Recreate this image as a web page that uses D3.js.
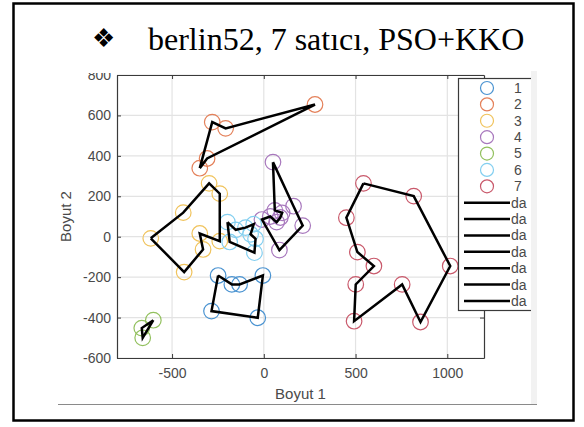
<!DOCTYPE html>
<html>
<head>
<meta charset="utf-8">
<script src="https://cdn.jsdelivr.net/npm/d3@7"></script>
<style>
  body { margin: 0; background: #fff; }
  svg { display: block; }
</style>
</head>
<body>
<div id="chart"></div>
<script>
// city coordinates per salesman, in tour order
var salesman1 = [[-249, -192], [-174, -236], [-132, -236], [-5, -192], [-33, -401], [-285, -368]];
var salesman2 = [[-349, 339], [-281, 567], [-208, 536], [279, 654], [-309, 387]];
var salesman3 = [[-616, -8], [-439, 119], [-298, 264], [-240, 213], [-240, -22], [-349, 16], [-331, -63], [-434, -175]];
var salesman4 = [[50, 369], [60, 130], [100, 118], [90, 95], [70, 72], [35, 100], [-10, 85], [85, -66], [212, 55], [162, 151]];
var salesman5 = [[-602, -413], [-665, -452], [-660, -500]];
var salesman6 = [[-198, 72], [-153, 34], [-100, 45], [-55, 62], [-72, 12], [-45, -10], [-51, -79], [-186, -26]];
var salesman7 = [[543, 264], [817, 201], [1016, -145], [854, -422], [754, -236], [492, -418], [501, -236], [600, -145], [510, -76], [450, 94]];

var tours = [salesman1, salesman2, salesman3, salesman4, salesman5, salesman6, salesman7];
var seriesNames = ["1", "2", "3", "4", "5", "6", "7"];
var lineNames = ["da", "da", "da", "da", "da", "da", "da"];
var colors = ["#4a93d1", "#e4815a", "#f0c35c", "#a878bd", "#92c05e", "#83cff0", "#c9596b"];

var xTicks = [-500, 0, 500, 1000];
var yTicks = [-600, -400, -200, 0, 200, 400, 600, 800];

var W = 584, H = 427;
var svg = d3.select("#chart").append("svg")
  .attr("width", W)
  .attr("height", H);

// slide frame
svg.append("rect")
  .attr("x", 13.5).attr("y", 3.5)
  .attr("width", 560).attr("height", 417)
  .attr("fill", "none")
  .attr("stroke", "#000")
  .attr("stroke-width", 2.5);

// title
var title = svg.append("text")
  .attr("y", 50)
  .style("font-family", "'Liberation Serif', 'Times New Roman', serif")
  .style("font-size", "32px")
  .attr("fill", "#000");
title.append("tspan")
  .attr("x", 92)
  .attr("dy", -3)
  .style("font-family", "'DejaVu Sans', sans-serif")
  .style("font-size", "26px")
  .text("\u2756");
title.append("tspan")
  .attr("x", 148)
  .attr("dy", 3)
  .text("berlin52, 7 satıcı, PSO+KKO");

// the pasted figure area
svg.append("clipPath").attr("id", "figclip")
  .append("rect").attr("x", 58).attr("y", 73).attr("width", 473).attr("height", 331);

svg.append("rect")
  .attr("x", 531).attr("y", 71).attr("width", 6).attr("height", 333)
  .attr("fill", "#f2f2f2");

svg.append("line")
  .attr("x1", 58).attr("x2", 537)
  .attr("y1", 404.5).attr("y2", 404.5)
  .attr("stroke", "#8a8a8a").attr("stroke-width", 1.2);

var fig = svg.append("g").attr("clip-path", "url(#figclip)");

var margin = {left: 117, right: 484, top: 75, bottom: 358};
var x = d3.scaleLinear().domain([-800, 1200]).range([margin.left, margin.right]);
var y = d3.scaleLinear().domain([-600, 800]).range([margin.bottom, margin.top]);

// grid
fig.append("g").selectAll("line")
  .data(xTicks).join("line")
  .attr("x1", d => x(d)).attr("x2", d => x(d))
  .attr("y1", margin.top).attr("y2", margin.bottom)
  .attr("stroke", "#e3e3e3").attr("stroke-width", 1.2);
fig.append("g").selectAll("line")
  .data(yTicks).join("line")
  .attr("x1", margin.left).attr("x2", margin.right)
  .attr("y1", d => y(d)).attr("y2", d => y(d))
  .attr("stroke", "#e3e3e3").attr("stroke-width", 1.2);

// axes
var axisColor = "#3a3a3a";
var xAxis = fig.append("g")
  .attr("transform", "translate(0," + margin.bottom + ")")
  .call(d3.axisBottom(x).tickValues(xTicks).tickSizeInner(-4).tickSizeOuter(0).tickPadding(10));
var yAxis = fig.append("g")
  .attr("transform", "translate(" + margin.left + ",0)")
  .call(d3.axisLeft(y).tickValues(yTicks).tickSizeInner(-4).tickSizeOuter(0).tickPadding(6));
fig.append("g")
  .attr("transform", "translate(0," + margin.top + ")")
  .call(d3.axisTop(x).tickValues(xTicks).tickSizeInner(-4).tickSizeOuter(0).tickFormat(""));
fig.append("g")
  .attr("transform", "translate(" + margin.right + ",0)")
  .call(d3.axisRight(y).tickValues(yTicks).tickSizeInner(-4).tickSizeOuter(0).tickFormat(""));

fig.selectAll(".domain").attr("stroke", axisColor).attr("stroke-width", 1.2);
fig.selectAll(".tick line").attr("stroke", axisColor);
fig.selectAll(".tick text")
  .attr("fill", "#4a4a4a")
  .style("font-family", "'Liberation Sans', Arial, sans-serif")
  .style("font-size", "14px");
xAxis.selectAll(".tick text").text(d => d < 0 ? "-" + Math.abs(d) : d);
yAxis.selectAll(".tick text").text(d => d < 0 ? "-" + Math.abs(d) : d);

// axis labels
fig.append("text")
  .attr("x", x(200)).attr("y", 399)
  .attr("text-anchor", "middle")
  .attr("fill", "#4a4a4a")
  .style("font-family", "'Liberation Sans', Arial, sans-serif")
  .style("font-size", "15px")
  .text("Boyut 1");
fig.append("text")
  .attr("transform", "translate(71," + y(100) + ") rotate(-90)")
  .attr("text-anchor", "middle")
  .attr("fill", "#4a4a4a")
  .style("font-family", "'Liberation Sans', Arial, sans-serif")
  .style("font-size", "15px")
  .text("Boyut 2");

// city markers
tours.forEach(function (t, i) {
  fig.append("g").selectAll("circle")
    .data(t).join("circle")
    .attr("cx", d => x(d[0]))
    .attr("cy", d => y(d[1]))
    .attr("r", 7.8)
    .attr("fill", "none")
    .attr("stroke", colors[i])
    .attr("stroke-width", 1.2);
});

// tours (closed)
var line = d3.line().x(d => x(d[0])).y(d => y(d[1]));
tours.forEach(function (t) {
  fig.append("path")
    .attr("d", line(t.concat([t[0]])))
    .attr("fill", "none")
    .attr("stroke", "#000")
    .attr("stroke-width", 2.5)
    .attr("stroke-linejoin", "miter");
});

// legend
var lg = fig.append("g");
lg.append("rect")
  .attr("x", 458.5).attr("y", 78.5)
  .attr("width", 100).attr("height", 232)
  .attr("fill", "#fff")
  .attr("stroke", "#3a3a3a")
  .attr("stroke-width", 1.2);

var legendY = d3.scaleLinear().domain([0, 13]).range([88, 301]);

lg.selectAll("circle.key")
  .data(seriesNames).join("circle")
  .attr("class", "key")
  .attr("cx", 487)
  .attr("cy", (d, i) => legendY(i))
  .attr("r", 6.5)
  .attr("fill", "none")
  .attr("stroke", (d, i) => colors[i])
  .attr("stroke-width", 1.2);
lg.selectAll("text.key")
  .data(seriesNames).join("text")
  .attr("class", "key")
  .attr("x", 514)
  .attr("y", (d, i) => legendY(i))
  .attr("dy", "0.35em")
  .attr("fill", "#4a4a4a")
  .style("font-family", "'Liberation Sans', Arial, sans-serif")
  .style("font-size", "14px")
  .text(d => d);

lg.selectAll("line.key")
  .data(lineNames).join("line")
  .attr("class", "key")
  .attr("x1", 464).attr("x2", 510)
  .attr("y1", (d, i) => legendY(i + 7))
  .attr("y2", (d, i) => legendY(i + 7))
  .attr("stroke", "#000")
  .attr("stroke-width", 2.5);
lg.selectAll("text.lk")
  .data(lineNames).join("text")
  .attr("class", "lk")
  .attr("x", 511)
  .attr("y", (d, i) => legendY(i + 7))
  .attr("dy", "0.35em")
  .attr("fill", "#4a4a4a")
  .style("font-family", "'Liberation Sans', Arial, sans-serif")
  .style("font-size", "14px")
  .text(d => d);
</script>
</body>
</html>
